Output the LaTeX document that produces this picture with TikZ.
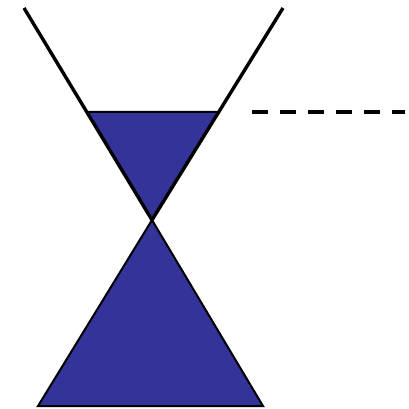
\documentclass[tikz,border=0pt]{standalone}
\definecolor{coneblue}{RGB}{51,51,153}
\tikzset{
  cone/.style={fill=coneblue, draw=black, line width=2pt, line join=miter},
  vline/.style={draw=black, line width=3.4pt},
  level/.style={draw=black, line width=3.5pt, dash pattern=on 16pt off 12pt}
}
\begin{document}
\begin{tikzpicture}[x=1pt,y=-1pt]
\useasboundingbox (0,0) rectangle (409,409);
\coordinate (apex) at (152,220);
\coordinate (tl) at (24,8);
\coordinate (tr) at (283,8);
\coordinate (ul) at (87,112);
\coordinate (ur) at (219,112);
\coordinate (bl) at (38,406);
\coordinate (br) at (263,406);
\coordinate (ds) at (252,112);
\coordinate (de) at (405,112);
\path[cone] (ul) -- (ur) -- (apex) -- cycle;
\path[cone] (apex) -- (bl) -- (br) -- cycle;
\path[vline] (tl) -- (apex) -- (tr);
\path[level] (ds) -- (de);
\end{tikzpicture}
\end{document}
